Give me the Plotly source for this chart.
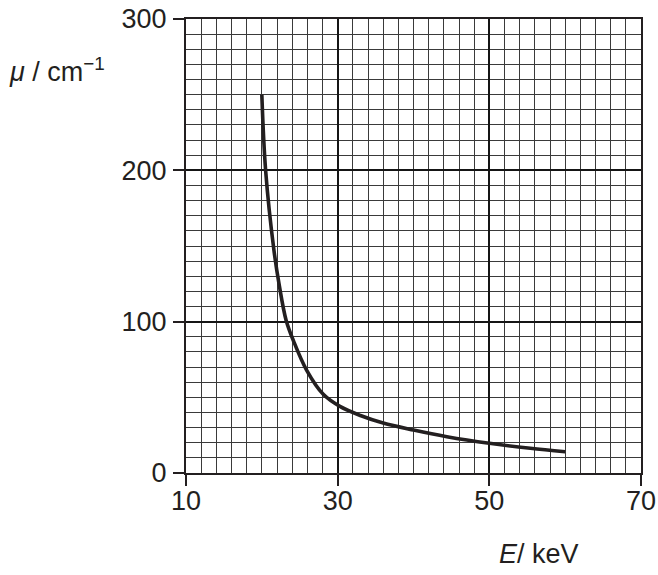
import plotly.graph_objects as go

# Data
energy_keV = [20, 20.5, 21.6, 22.3, 23.2, 24.2, 25.9, 28.1, 30.3, 33, 36, 40, 44.4, 50, 55.4, 60]
mu_per_cm = [250, 200, 147, 124, 101, 87, 68, 52, 44, 38, 33, 28.4, 24, 19.6, 16.3, 14]

x_ticks = [10, 30, 50, 70]
y_ticks = [0, 100, 200, 300]

ink = "#231f20"
font_family = "Liberation Sans, Arial, sans-serif"

fig = go.Figure()
fig.add_trace(go.Scatter(
    x=energy_keV, y=mu_per_cm, mode="lines",
    line=dict(color=ink, width=3.6, shape="spline", smoothing=1.0),
    hoverinfo="skip", showlegend=False,
))

axis_common = dict(
    showgrid=True, gridcolor="#151515", gridwidth=2,
    showline=True, mirror=True, linecolor=ink, linewidth=2,
    ticks="outside", ticklen=11, tickwidth=2, tickcolor=ink,
    tickfont=dict(family=font_family, size=27, color=ink),
    zeroline=False, fixedrange=True, automargin=False,
    ticklabeloverflow="allow",
)

fig.update_xaxes(
    range=[10, 70], tickvals=x_ticks, ticktext=[str(v) for v in x_ticks],
    minor=dict(dtick=2, tick0=10, showgrid=True, gridcolor="#3a3a3a", gridwidth=1.2),
    ticklabelstandoff=-8,
    **axis_common,
)
fig.update_yaxes(
    range=[0, 300], tickvals=y_ticks, ticktext=[str(v) for v in y_ticks],
    minor=dict(dtick=10, tick0=0, showgrid=True, gridcolor="#3a3a3a", gridwidth=1.2),
    ticklabelstandoff=1,
    **axis_common,
)

fig.add_annotation(
    xref="paper", yref="paper", x=-0.394, y=0.888, xanchor="left", yanchor="middle",
    text="<i>μ</i> / cm<sup>−1</sup>", showarrow=False,
    font=dict(family=font_family, size=27, color=ink),
)
fig.add_annotation(
    xref="paper", yref="paper", x=0.683, y=-0.178, xanchor="left", yanchor="middle",
    text="<i>E</i>/ keV", showarrow=False,
    font=dict(family=font_family, size=27, color=ink),
)

fig.update_layout(
    width=658, height=575,
    margin=dict(l=186, r=17, t=19, b=102, pad=0, autoexpand=False),
    paper_bgcolor="white", plot_bgcolor="white",
    font=dict(family=font_family, color=ink),
)

# remove the browser's default page margin so the figure fills the window exactly
fig.write_html(
    "out.html",
    config={"displayModeBar": False, "responsive": False},
    post_script="document.body.style.margin='0';document.body.style.overflow='hidden';",
)
